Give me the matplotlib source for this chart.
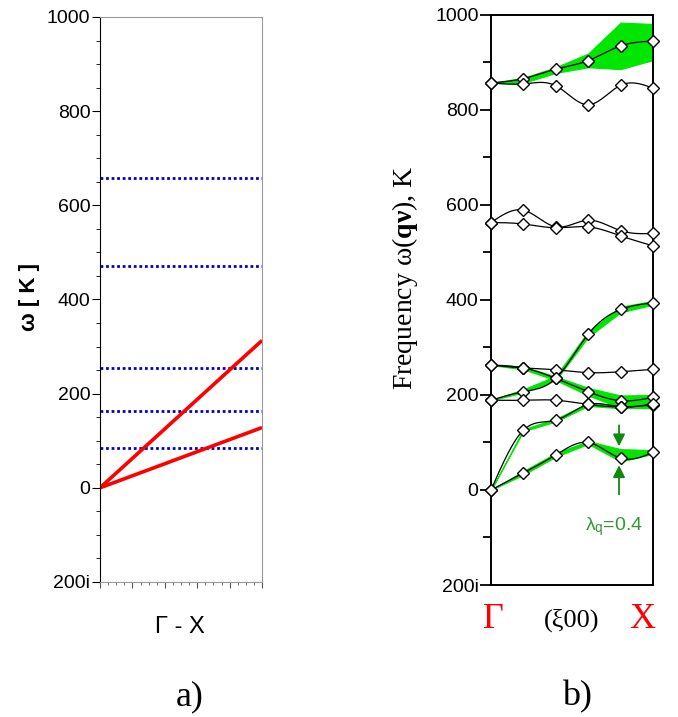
import numpy as np
import matplotlib.pyplot as plt
from matplotlib.ticker import MultipleLocator, FuncFormatter

plt.rcParams['font.family'] = ['Liberation Sans', 'DejaVu Sans']
plt.rcParams['mathtext.fontset'] = 'custom'
plt.rcParams['mathtext.rm'] = 'Liberation Serif'
plt.rcParams['mathtext.it'] = 'Liberation Serif:italic'
plt.rcParams['mathtext.bf'] = 'Liberation Serif:bold'

# ---- panel a) model dispersion
flat_modes = [84, 164, 255, 471, 658]      # dotted blue levels, K
linear_ends = [313, 128]                   # red acoustic lines at X, K

# ---- panel b) computed branches along (xi 0 0)
q = [0.0, 0.2, 0.4, 0.6, 0.8, 1.0]
branches = {
    'top_hi':  [857, 866, 886, 904, 935, 945],
    'top_lo':  [857, 855, 851, 811, 852, 846],
    'mid_a':   [563, 589, 554, 568, 546, 540],
    'mid_b':   [563, 560, 552, 554, 535, 514],
    'rise':    [189, 207, 235, 328, 380, 394],
    'flat_hi': [263, 257, 253, 247, 249, 254],
    'desc':    [263, 257, 235, 207, 188, 195],
    'flat_lo': [189, 189, 189, 180, 175, 179],
    'acou2':   [0, 126, 147, 180, 175, 182],
    'acou1':   [0, 36, 74, 100, 67, 79],
}
# linewidth bands (upper, lower)
bands = [
    ([857, 868, 890, 919, 984, 981], [857, 857, 878, 890, 886, 905]),
    ([189, 212, 240, 334, 386, 398], [189, 205, 231, 322, 374, 390]),
    ([263, 260, 239, 215, 199, 200], [263, 254, 231, 199, 173, 172]),
    ([0, 128, 150, 183, 178, 184], [0, 124, 144, 177, 172, 180]),
    ([0, 40, 78, 103, 86, 84], [0, 32, 70, 97, 60, 76]),
]


def spline(x, y, n=200):
    # natural cubic spline, just for drawing the smooth curve
    x = np.asarray(x, float)
    y = np.asarray(y, float)
    m = len(x)
    h = np.diff(x)
    A = np.zeros((m, m))
    r = np.zeros(m)
    A[0, 0] = A[-1, -1] = 1
    for i in range(1, m - 1):
        A[i, i - 1] = h[i - 1]
        A[i, i] = 2 * (h[i - 1] + h[i])
        A[i, i + 1] = h[i]
        r[i] = 6 * ((y[i + 1] - y[i]) / h[i] - (y[i] - y[i - 1]) / h[i - 1])
    M = np.linalg.solve(A, r)
    xs = np.linspace(x[0], x[-1], n)
    k = np.clip(np.searchsorted(x, xs) - 1, 0, m - 2)
    t1 = x[k + 1] - xs
    t0 = xs - x[k]
    hk = h[k]
    ys = (M[k] * t1 ** 3 + M[k + 1] * t0 ** 3) / (6 * hk) \
        + (y[k] / hk - M[k] * hk / 6) * t1 + (y[k + 1] / hk - M[k + 1] * hk / 6) * t0
    return xs, ys


def omega_fmt(v, pos):
    return '200i' if v < 0 else '%d' % v


fig = plt.figure(figsize=(6.78, 7.17), dpi=100)

# ---------------- a)
ax1 = fig.add_axes([0.1475, 0.1883, 0.239, 0.788])
for lev in flat_modes:
    ax1.axhline(lev, color='#0000cc', lw=2, ls=(0, (1, 1)))
for e in linear_ends:
    ax1.plot([0, 1], [0, e], color='#ff0000', lw=2.6, solid_capstyle='butt')
ax1.set_xlim(0, 1)
ax1.set_ylim(-200, 1000)
ax1.yaxis.set_major_locator(MultipleLocator(200))
ax1.yaxis.set_minor_locator(MultipleLocator(50))
ax1.yaxis.set_major_formatter(FuncFormatter(omega_fmt))
ax1.xaxis.set_major_locator(MultipleLocator(0.2))
ax1.xaxis.set_minor_locator(MultipleLocator(0.05))
ax1.xaxis.set_major_formatter(FuncFormatter(lambda v, p: ''))
ax1.tick_params(axis='y', which='major', length=6, width=0.8, labelsize=14, pad=1)
ax1.tick_params(axis='y', which='minor', length=3, width=0.6)
ax1.tick_params(axis='x', which='major', length=4, width=0.8, color='#555555')
ax1.tick_params(axis='x', which='minor', length=2, width=0.6, color='#555555')
for s in ['top', 'right', 'bottom']:
    ax1.spines[s].set_color('#999999')
    ax1.spines[s].set_linewidth(0.8)
ax1.spines['left'].set_linewidth(0.8)

fig.text(30 / 678, 1 - 297 / 717, 'ω [ K ]', rotation=90, ha='center', va='center',
         fontsize=16, fontweight='bold')
fig.text(180 / 678, 1 - 627 / 717, 'Γ - X', ha='center', va='center', fontsize=17)
fig.text(190 / 678, 1 - 697 / 717, 'a)', ha='center', va='center', fontsize=26,
         family='Liberation Serif')

# ---------------- b)
ax2 = fig.add_axes([0.7242, 0.1841, 0.239, 0.795])
for hi, lo in bands:
    ax2.fill_between(q, lo, hi, color='#00e600', lw=0.8, edgecolor='#00e600', zorder=1)
for name, vals in branches.items():
    xs, ys = spline(q, vals)
    ax2.plot(xs, ys, color='black', lw=0.9, zorder=2)
    ax2.plot(q, vals, ls='none', marker='D', ms=5.8, mfc='white', mec='black', mew=1,
             zorder=3, clip_on=False)
ax2.set_xlim(0, 1)
ax2.set_ylim(-200, 1000)
ax2.set_xticks([])
ax2.yaxis.set_major_locator(MultipleLocator(200))
ax2.yaxis.set_minor_locator(MultipleLocator(100))
ax2.yaxis.set_major_formatter(FuncFormatter(omega_fmt))
ax2.tick_params(axis='y', which='major', length=8, width=1.3, labelsize=14, pad=1)
ax2.tick_params(axis='y', which='minor', length=6, width=1.3)
for s in ax2.spines.values():
    s.set_linewidth(1.4)

# linewidth marker at q=0.8
ax2.annotate('', xy=(0.79, 86), xytext=(0.79, 142),
             arrowprops=dict(arrowstyle='-|>', color='#118811', lw=1.3, mutation_scale=18))
ax2.annotate('', xy=(0.79, 58), xytext=(0.79, -15),
             arrowprops=dict(arrowstyle='-|>', color='#118811', lw=1.3, mutation_scale=18))
ax2.text(0.76, -77, r'λ$_\mathregular{q}$=0.4', color='#339933', fontsize=14,
         ha='center', va='center')

fig.text(405 / 678, 1 - 278 / 717, r'Frequency ω($\mathbf{q\nu}$), K', rotation=90,
         ha='center', va='center', fontsize=20, family='Liberation Serif')
fig.text(493 / 678, 1 - 620 / 717, 'Γ', color='#ff0000', ha='center', va='center',
         fontsize=26, family='Liberation Serif')
fig.text(572 / 678, 1 - 620 / 717, '(ξ00)', ha='center', va='center', fontsize=19,
         family='Liberation Serif')
fig.text(642 / 678, 1 - 620 / 717, 'X', color='#ff0000', ha='center', va='center',
         fontsize=26, family='Liberation Serif')
fig.text(577 / 678, 1 - 697 / 717, 'b)', ha='center', va='center', fontsize=26,
         family='Liberation Serif')

fig.savefig('out.png', dpi=100)
